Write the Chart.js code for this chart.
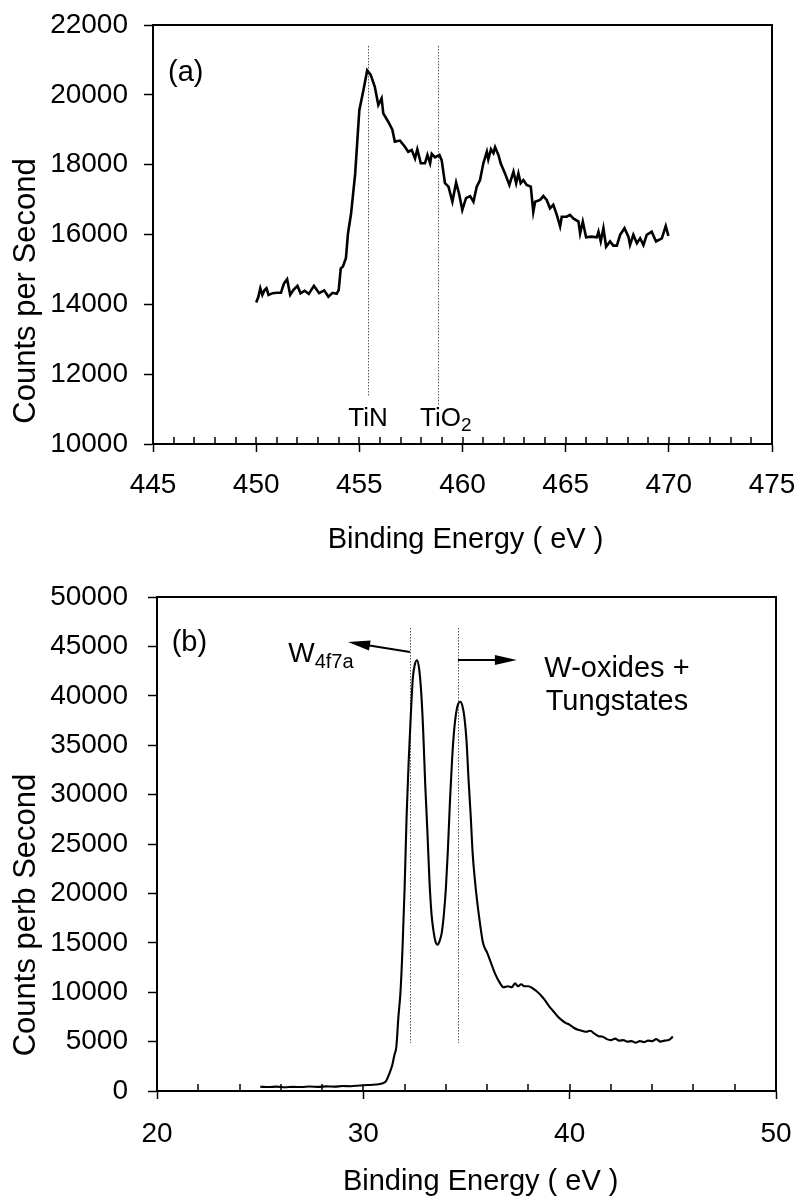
<!DOCTYPE html>
<html><head><meta charset="utf-8">
<script src="https://cdn.jsdelivr.net/npm/chart.js@4/dist/chart.umd.min.js"></script>
<style>
html,body{margin:0;padding:0;background:#fff;}
#wrap{position:relative;width:797px;height:1200px;overflow:hidden;}
canvas{position:absolute;left:0;}
</style></head><body>
<div id="wrap">
<canvas id="c1" width="797" height="560" style="top:0px"></canvas>
<canvas id="c2" width="797" height="640" style="top:560px"></canvas>
</div>
<script>
// ---------- (a) Ti 2p spectrum ----------
const energyA = [450.0,450.1,450.2,450.3,450.4,450.5,450.6,450.8,451.0,451.2,451.35,451.5,451.65,451.8,452.0,452.15,452.35,452.55,452.8,453.05,453.3,453.5,453.7,453.9,454.0,454.1,454.2,454.35,454.45,454.6,454.8,455.0,455.2,455.38,455.55,455.75,455.92,456.08,456.16,456.4,456.6,456.72,456.97,457.2,457.37,457.54,457.7,457.81,457.98,458.18,458.3,458.43,458.51,458.67,458.88,458.99,459.15,459.32,459.51,459.69,459.83,459.99,460.17,460.37,460.53,460.69,460.85,461.01,461.18,461.25,461.38,461.5,461.58,461.74,461.85,462.06,462.27,462.47,462.6,462.71,462.82,462.95,463.11,463.31,463.43,463.52,463.76,463.92,464.08,464.24,464.4,464.57,464.73,464.81,465.05,465.21,465.37,465.62,465.7,465.83,465.99,466.26,466.51,466.59,466.7,466.83,466.96,467.15,467.31,467.48,467.64,467.85,468.04,468.12,468.28,468.45,468.61,468.77,468.93,469.17,469.38,469.66,469.85,469.98];
const countsA = [14050,14200,14460,14270,14400,14460,14270,14320,14330,14330,14600,14720,14270,14410,14530,14315,14390,14300,14530,14320,14400,14220,14330,14300,14410,15030,15080,15320,16030,16600,17750,19560,20140,20700,20570,20230,19710,19900,19470,19230,19000,18660,18690,18520,18370,18420,18180,18440,18040,18040,18280,18040,18310,18210,18280,18130,17470,17370,16940,17490,17180,16700,17040,17100,16940,17370,17560,18040,18370,18150,18440,18330,18500,18280,18040,17750,17420,17800,17470,17750,17470,17560,17420,17370,16650,16940,16990,17100,16990,16750,16850,16560,16230,16510,16510,16560,16460,16370,16030,16370,15920,15940,15920,16080,15800,16180,15650,15800,15680,15680,15990,16180,15940,15700,15990,15750,15890,15700,15990,16080,15800,15890,16240,15960];
const xTicksA = [445,450,455,460,465,470,475];
const yTicksA = [10000,12000,14000,16000,18000,20000,22000];
const markerEnergyA = [455.4, 458.8];
const markerTopA = [21400, 21400];
const markerBottomA = [11350, 11100];

// ---------- (b) W 4f spectrum ----------
const energyB = [25.0,25.4,25.8,26.2,26.6,27.0,27.4,27.8,28.2,28.6,29.0,29.4,29.8,30.2,30.6,30.9,31.1,31.25,31.4,31.5,31.6,31.7,31.8,31.9,32.0,32.1,32.2,32.3,32.4,32.5,32.6,32.7,32.8,32.9,33.0,33.1,33.2,33.3,33.4,33.5,33.6,33.7,33.8,33.9,34.0,34.1,34.2,34.3,34.4,34.5,34.6,34.7,34.8,34.9,35.0,35.1,35.2,35.3,35.4,35.5,35.6,35.8,36.0,36.2,36.4,36.6,36.8,37.0,37.2,37.35,37.5,37.65,37.8,38.0,38.2,38.4,38.6,38.8,39.0,39.2,39.4,39.6,39.8,40.0,40.2,40.4,40.6,40.8,41.0,41.2,41.4,41.6,41.8,42.0,42.2,42.4,42.6,42.8,43.0,43.2,43.4,43.6,43.8,44.0,44.2,44.4,44.6,44.8,45.0];
const countsB = [430,400,440,380,420,400,450,420,470,440,500,480,560,600,650,760,1000,1700,2600,3600,4500,7500,10000,14500,20500,28000,33500,38000,41800,43200,43600,42800,40500,36500,31000,26500,21500,18000,16200,15100,14800,15200,16000,17800,20500,24500,29400,33500,36500,38300,39200,39400,39000,37800,35500,31500,28000,24000,21500,19500,17800,15000,14000,12900,11800,11000,10500,10600,10500,10900,10600,10800,10600,10600,10400,10100,9700,9200,8600,8100,7600,7200,6900,6700,6400,6200,6100,6000,6100,5800,5550,5500,5250,5150,5300,5100,5150,5000,5050,4900,5050,4950,5100,5050,5250,5000,5100,5150,5500];
const xTicksB = [20,30,40,50];
const yTicksB = [0,5000,10000,15000,20000,25000,30000,35000,40000,45000,50000];
const markerEnergyB = [32.26, 34.58];
const markerTopB = [46860, 46860];
const markerBottomB = [4860, 4860];

const FONT = "'Liberation Sans', Arial, Helvetica, sans-serif";
Chart.defaults.font.family = FONT;
Chart.defaults.color = '#000';

function drawParts(ctx, parts, x, y, align) {
  let total = 0;
  parts.forEach(p => { ctx.font = p.size + 'px ' + FONT; p.w = ctx.measureText(p.t).width; total += p.w; });
  let cx = align === 'center' ? x - total / 2 : x;
  parts.forEach(p => {
    ctx.font = p.size + 'px ' + FONT;
    ctx.textAlign = 'left'; ctx.textBaseline = 'alphabetic';
    ctx.fillText(p.t, cx, y + (p.dy || 0));
    cx += p.w;
  });
}

const decor = {
  id: 'decor',
  beforeDatasetsDraw(chart, args, o) {
    const ctx = chart.ctx, xs = chart.scales.x, ys = chart.scales.y;
    ctx.save();
    ctx.strokeStyle = '#555'; ctx.lineWidth = 1; ctx.setLineDash([1.5, 1.5]);
    o.vlines.x.forEach((v, i) => {
      const px = Math.round(xs.getPixelForValue(v)) + 0.5;
      ctx.beginPath();
      ctx.moveTo(px, ys.getPixelForValue(o.vlines.top[i]));
      ctx.lineTo(px, ys.getPixelForValue(o.vlines.bottom[i]));
      ctx.stroke();
    });
    ctx.restore();
  },
  afterDraw(chart, args, o) {
    const ctx = chart.ctx, xs = chart.scales.x, ys = chart.scales.y, a = chart.chartArea;
    ctx.save();
    ctx.strokeStyle = '#000'; ctx.lineWidth = 2;
    ctx.beginPath(); ctx.moveTo(a.left - 1, a.top); ctx.lineTo(a.right, a.top); ctx.lineTo(a.right, a.bottom + 1); ctx.stroke();
    // inward tick marks
    ctx.lineWidth = 1.5;
    for (let v = xs.min; v <= xs.max + 1e-9; v += o.minorStep) {
      const px = Math.round(xs.getPixelForValue(v)) ;
      ctx.beginPath(); ctx.moveTo(px, a.bottom); ctx.lineTo(px, a.bottom - 7); ctx.stroke();
    }
    // arrows
    (o.arrows || []).forEach(ar => {
      const x1 = xs.getPixelForValue(ar.from[0]), y1 = ys.getPixelForValue(ar.from[1]);
      const x2 = xs.getPixelForValue(ar.to[0]), y2 = ys.getPixelForValue(ar.to[1]);
      const ang = Math.atan2(y2 - y1, x2 - x1), L = 22, W = 5;
      ctx.strokeStyle = '#000'; ctx.fillStyle = '#000'; ctx.lineWidth = 2;
      ctx.beginPath(); ctx.moveTo(x1, y1); ctx.lineTo(x2 - Math.cos(ang) * (L - 2), y2 - Math.sin(ang) * (L - 2)); ctx.stroke();
      ctx.beginPath();
      ctx.moveTo(x2, y2);
      ctx.lineTo(x2 - Math.cos(ang) * L - Math.sin(ang) * W, y2 - Math.sin(ang) * L + Math.cos(ang) * W);
      ctx.lineTo(x2 - Math.cos(ang) * L + Math.sin(ang) * W, y2 - Math.sin(ang) * L - Math.cos(ang) * W);
      ctx.closePath(); ctx.fill();
    });
    // annotation texts (anchored in data units)
    ctx.fillStyle = '#000';
    (o.texts || []).forEach(t => {
      drawParts(ctx, t.parts, xs.getPixelForValue(t.x), ys.getPixelForValue(t.y), t.align || 'left');
    });
    // axis titles
    const xt = o.xTitle;
    ctx.font = xt.size + 'px ' + FONT; ctx.textAlign = 'center'; ctx.textBaseline = 'alphabetic';
    ctx.fillText(xt.text, xt.cx, xt.baseline);
    const yt = o.yTitle;
    ctx.save();
    ctx.translate(yt.baseline, yt.cy); ctx.rotate(-Math.PI / 2);
    ctx.font = yt.size + 'px ' + FONT; ctx.textAlign = 'center'; ctx.textBaseline = 'alphabetic';
    ctx.fillText(yt.text, 0, 0);
    ctx.restore();
    ctx.restore();
  }
};

function zeroPad(s) { s.paddingLeft = 0; s.paddingRight = 0; s.paddingTop = 0; s.paddingBottom = 0; }

function makeChart(id, cfg) {
  return new Chart(document.getElementById(id), {
    type: 'line',
    data: { datasets: [{
      data: cfg.xs.map((x, i) => ({ x: x, y: cfg.ys[i] })),
      borderColor: '#000', borderWidth: cfg.lw, pointRadius: 0, fill: false,
      tension: 0, cubicInterpolationMode: cfg.mono ? 'monotone' : 'default'
    }]},
    options: {
      responsive: false, animation: false, devicePixelRatio: 1,
      layout: { padding: cfg.pad },
      plugins: { legend: { display: false }, tooltip: { enabled: false }, decor: cfg.decor },
      scales: {
        x: {
          type: 'linear', min: cfg.xt[0], max: cfg.xt[cfg.xt.length - 1],
          afterBuildTicks: s => { s.ticks = cfg.xt.map(v => ({ value: v })); },
          afterFit: s => { s.height = cfg.xh; zeroPad(s); },
          ticks: { font: { size: 28 }, color: '#000', padding: cfg.xpad, maxRotation: 0, autoSkip: false, callback: v => String(v) },
          grid: { display: true, drawOnChartArea: false, drawTicks: true, tickLength: 8, tickColor: '#000', tickWidth: 1.5 },
          border: { display: true, color: '#000', width: 2 }
        },
        y: {
          type: 'linear', min: cfg.yt[0], max: cfg.yt[cfg.yt.length - 1],
          afterBuildTicks: s => { s.ticks = cfg.yt.map(v => ({ value: v })); },
          afterFit: s => { s.width = cfg.yw; zeroPad(s); },
          ticks: { font: { size: 28 }, color: '#000', padding: cfg.ypad, autoSkip: false, callback: v => String(v) },
          grid: { display: true, drawOnChartArea: false, drawTicks: true, tickLength: 9, tickColor: '#000', tickWidth: 1.5 },
          border: { display: true, color: '#000', width: 2 }
        }
      }
    },
    plugins: [decor]
  });
}

makeChart('c1', {
  xs: energyA, ys: countsA, lw: 2.6, mono: false,
  xt: xTicksA, yt: yTicksA, pad: { left: 0, right: 25, top: 25, bottom: 0 },
  xh: 116, yw: 153, xpad: 16, ypad: 16,
  decor: {
    minorStep: 1,
    vlines: { x: markerEnergyA, top: markerTopA, bottom: markerBottomA },
    texts: [
      { x: 445.73, y: 20400, parts: [{ t: '(a)', size: 29 }] },
      { x: 455.42, y: 10515, align: 'center', parts: [{ t: 'TiN', size: 26 }] },
      { x: 457.94, y: 10524, parts: [{ t: 'TiO', size: 26 }, { t: '2', size: 19, dy: 5 }] }
    ],
    xTitle: { text: 'Binding Energy ( eV )', size: 29, cx: 465.5, baseline: 547.5 },
    yTitle: { text: 'Counts per Second', size: 31, baseline: 35, cy: 291 }
  }
});

makeChart('c2', {
  xs: energyB, ys: countsB, lw: 2.1, mono: true,
  xt: xTicksB, yt: yTicksB, pad: { left: 0, right: 21, top: 37, bottom: 0 },
  xh: 109, yw: 157, xpad: 18, ypad: 20,
  decor: {
    minorStep: 2,
    vlines: { x: markerEnergyB, top: markerTopB, bottom: markerBottomB },
    arrows: [
      { from: [32.26, 44430], to: [29.26, 45450] },
      { from: [34.58, 43620], to: [37.44, 43620] }
    ],
    texts: [
      { x: 20.71, y: 44560, parts: [{ t: '(b)', size: 29 }] },
      { x: 26.36, y: 43450, parts: [{ t: 'W', size: 28 }, { t: '4f7a', size: 20, dy: 6.5 }] },
      { x: 38.77, y: 41930, parts: [{ t: 'W-oxides +', size: 29 }] },
      { x: 38.84, y: 38560, parts: [{ t: 'Tungstates', size: 29 }] }
    ],
    xTitle: { text: 'Binding Energy ( eV )', size: 29, cx: 480.7, baseline: 630 },
    yTitle: { text: 'Counts perb Second', size: 31, baseline: 35, cy: 355 }
  }
});
</script>
</body></html>
